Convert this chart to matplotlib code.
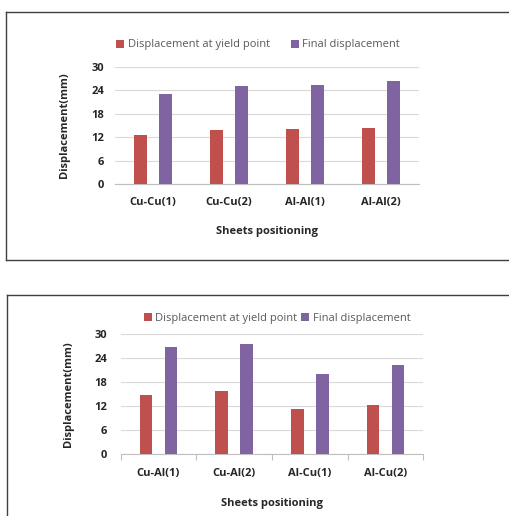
import matplotlib
matplotlib.use("Agg")
import matplotlib.pyplot as plt
import numpy as np
from matplotlib.lines import Line2D

# Data
cats_top = ["Cu-Cu(1)", "Cu-Cu(2)", "Al-Al(1)", "Al-Al(2)"]
yield_top = [12.5, 13.8, 14.0, 14.3]
final_top = [22.9, 25.1, 25.2, 26.3]

cats_bot = ["Cu-Al(1)", "Cu-Al(2)", "Al-Cu(1)", "Al-Cu(2)"]
yield_bot = [14.8, 15.8, 11.2, 12.2]
final_bot = [26.9, 27.6, 20.0, 22.4]

yticks = [0, 6, 12, 18, 24, 30]
series_names = ["Displacement at yield point", "Final displacement"]

RED = "#C0504D"
PURPLE = "#8064A2"
FONT = ["Open Sans", "DejaVu Sans"]
plt.rcParams['font.family'] = FONT
FS = 8

W, H = 510, 516
fig = plt.figure(figsize=(W / 100, H / 100), dpi=100)

def px_axes(left, top, right, bottom):
    return fig.add_axes([left / W, 1 - bottom / H, (right - left) / W, (bottom - top) / H])

def draw(ax, cats, y1, y2, ticks, ypad, ylabpad, xpad, xlabpad):
    x = np.arange(len(cats))
    bw = 0.17
    off = 0.165
    ax.bar(x - off, y1, bw, color=RED, zorder=3, label=series_names[0])
    ax.bar(x + off, y2, bw, color=PURPLE, zorder=3, label=series_names[1])
    ax.set_xlim(-0.5, len(cats) - 0.5)
    ax.set_ylim(0, 30)
    ax.set_yticks(yticks)
    ax.yaxis.grid(True, color="#D9D9D9", linewidth=0.8, zorder=0)
    ax.set_axisbelow(True)
    for s in ["top", "right", "left"]:
        ax.spines[s].set_visible(False)
    ax.spines["bottom"].set_color("#BFBFBF")
    ax.spines["bottom"].set_linewidth(0.8)
    ax.set_xticks(x)
    ax.set_xticklabels(cats, fontsize=FS, fontweight="bold", color="#262626")
    ax.tick_params(axis="y", length=0, labelsize=FS, labelcolor="#262626", pad=ypad)
    for lbl in ax.get_yticklabels():
        lbl.set_fontweight("bold")
    if ticks:
        ax.set_xticks(np.arange(len(cats) + 1) - 0.5, minor=True)
        ax.tick_params(axis="x", which="minor", length=4, color="#BFBFBF", width=0.8)
    ax.tick_params(axis="x", which="major", length=0, pad=xpad)
    ax.set_xlabel("Sheets positioning", fontsize=FS, fontweight="bold", color="#262626", labelpad=xlabpad)
    ax.set_ylabel("Displacement(mm)", fontsize=FS, fontweight="bold", color="#262626", labelpad=ylabpad)

ax1 = px_axes(115, 66.7, 419, 184)
draw(ax1, cats_top, yield_top, final_top, False, 8, 15, 9, 13)
ax1.legend(loc="center", bbox_to_anchor=(258 / W, 1 - 45 / H), bbox_transform=fig.transFigure,
           ncol=2, frameon=False, fontsize=FS, handlelength=0.7, handleheight=0.7,
           handletextpad=0.3, columnspacing=1.9, labelcolor="#595959")

ax2 = px_axes(120.7, 334.3, 423.3, 453.7)
draw(ax2, cats_bot, yield_bot, final_bot, True, 10, 14, 10, 14)
ax2.legend(loc="center", bbox_to_anchor=(277 / W, 1 - 318 / H), bbox_transform=fig.transFigure,
           ncol=2, frameon=False, fontsize=FS, handlelength=0.7, handleheight=0.7,
           handletextpad=0.3, columnspacing=0.4, labelcolor="#595959")

# Borders
def hline(x0, x1, y):
    fig.add_artist(Line2D([x0 / W, x1 / W], [1 - y / H, 1 - y / H], color="#404040", linewidth=1.0))
def vline(x, y0, y1):
    fig.add_artist(Line2D([x / W, x / W], [1 - y0 / H, 1 - y1 / H], color="#404040", linewidth=1.0))

hline(6, 512, 11.5)
hline(6, 512, 260)
vline(6.5, 11.5, 260)
hline(7, 512, 294.5)
vline(7.5, 294.5, 518)

fig.savefig("out.png", dpi=100, facecolor="white")
